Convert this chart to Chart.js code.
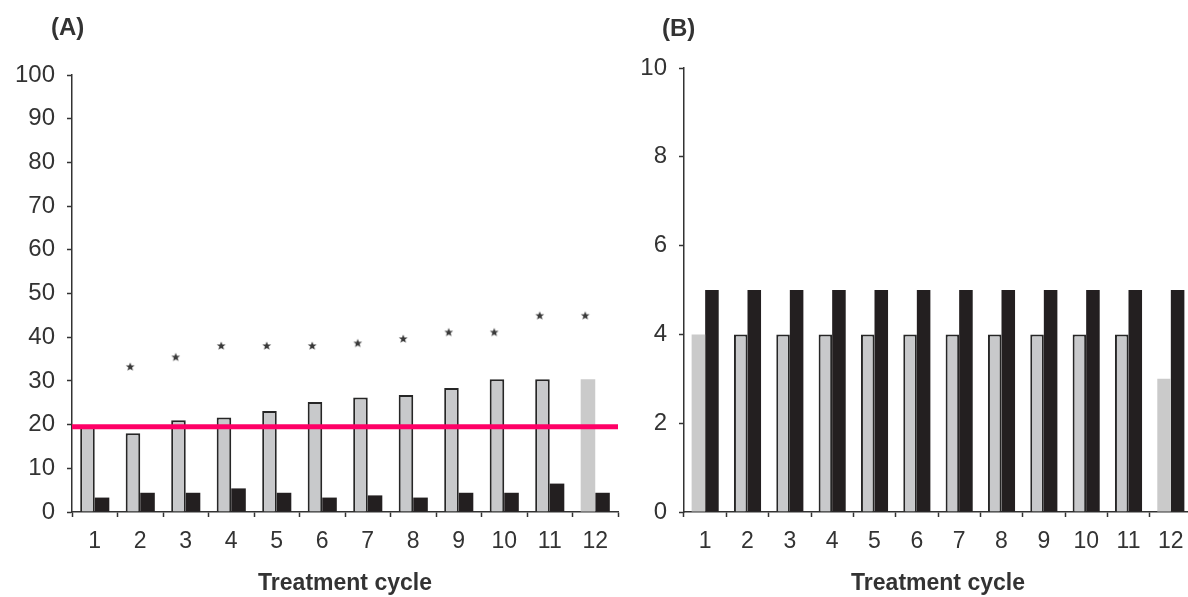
<!DOCTYPE html>
<html>
<head>
<meta charset="utf-8">
<script src="https://cdn.jsdelivr.net/npm/chart.js@4.4.1/dist/chart.umd.min.js"></script>
<style>
  html, body { margin: 0; padding: 0; background: #fff; overflow: hidden; }
  body { width: 1188px; height: 597px; position: relative; }
  .panel { position: absolute; top: 0; height: 597px; }
  #wrapA, #wrapA2 { left: 0; width: 630px; }
  #wrapA2 { pointer-events: none; }
  #wrapB { left: 620px; width: 576px; }
  .tag { position: absolute; font: bold 24px "Liberation Sans", Arial, sans-serif; color: #333; }
</style>
</head>
<body>
<div id="wrapA" class="panel"><canvas id="chartA"></canvas></div>
<div id="wrapA2" class="panel"><canvas id="chartA2"></canvas></div>
<div id="wrapB" class="panel"><canvas id="chartB"></canvas></div>
<div class="tag" style="left:51px; top:13px;">(A)</div>
<div class="tag" style="left:662px; top:14px;">(B)</div>
<script>
// ---- data ----
const cycles = ['1','2','3','4','5','6','7','8','9','10','11','12'];
const panelAGray  = [19.8, 18, 21, 21.6, 23.1, 25.2, 26.2, 26.8, 28.4, 30.4, 30.4, 30.4];
const panelABlack = [3.3, 4.4, 4.4, 5.4, 4.4, 3.3, 3.8, 3.3, 4.4, 4.4, 6.5, 4.4];
const panelAStars = [null, 33.2, 35.4, 38, 38, 38, 38.6, 39.6, 41.1, 41.1, 44.9, 44.9];
const panelAThreshold = 19.5;
const panelBGray  = [4, 4, 4, 4, 4, 4, 4, 4, 4, 4, 4, 3];
const panelBBlack = [5, 5, 5, 5, 5, 5, 5, 5, 5, 5, 5, 5];
const panelAYTicks = [0, 100, 10];
const panelBYTicks = [0, 10, 2];
const xTitle = 'Treatment cycle';

// ---- styles ----
const FONT = '"Liberation Sans", Arial, sans-serif';
const INK = '#333';
const GRAY = '#c8c9cb';
const LIGHT = '#cacaca';
const BLACK = '#231f20';
const PINK = 'rgb(255,0,102)';

// small star glyph used as point style, drawn a little left of centre (over the grey bar)
function makeStar() {
  const c = document.createElement('canvas');
  c.width = 40; c.height = 14;
  const g = c.getContext('2d');
  const cx = 20 - 10, cy = 7, R = 4.6, r = 2.0;
  g.beginPath();
  for (let i = 0; i < 10; i++) {
    const a = -Math.PI / 2 + i * Math.PI / 5;
    const rr = i % 2 ? r : R;
    g.lineTo(cx + rr * Math.cos(a), cy + rr * Math.sin(a));
  }
  g.closePath();
  g.fillStyle = '#3a3a3a';
  g.fill();
  return c;
}

function grayColors(vals, lightIdx) {
  return vals.map((_, i) => lightIdx.includes(i) ? LIGHT : GRAY);
}
function grayBorders(vals, lightIdx) {
  return vals.map((_, i) => lightIdx.includes(i) ? 0 : 2);
}

function baseOptions(yTicks, yWidth, pad) {
  return {
    responsive: true,
    maintainAspectRatio: false,
    animation: false,
    layout: { padding: pad },
    plugins: { legend: { display: false }, tooltip: { enabled: false }, title: { display: false } },
    scales: {
      x: {
        type: 'category',
        offset: true,
        grid: { display: true, drawOnChartArea: false, drawTicks: true, tickLength: 5, tickColor: INK, tickWidth: 1.5, offset: true },
        border: { display: true, color: INK, width: 1.5 },
        ticks: { color: INK, font: { family: FONT, size: 23 }, padding: 11, maxRotation: 0, autoSkip: false },
        title: { display: true, text: xTitle, color: INK, font: { family: FONT, size: 23, weight: 'bold' }, padding: { top: 0, bottom: 0 } },
        afterFit: s => { s.height = 85; }
      },
      y: {
        min: yTicks[0], max: yTicks[1],
        grid: { display: true, drawOnChartArea: false, drawTicks: true, tickLength: 5, tickColor: INK, tickWidth: 1.5 },
        border: { display: true, color: INK, width: 1.5 },
        ticks: { stepSize: yTicks[2], color: INK, font: { family: FONT, size: 24 }, padding: 12 },
        afterFit: s => { s.width = yWidth; }
      }
    }
  };
}

// ---- Panel A: bars with axes ----
const optA = baseOptions(panelAYTicks, 72, { top: 75, right: 12, left: 0, bottom: 0 });
new Chart(document.getElementById('chartA'), {
  type: 'bar',
  data: {
    labels: cycles,
    datasets: [
      { label: 'grey', xAxisID: 'x', yAxisID: 'y', data: panelAGray,
        backgroundColor: grayColors(panelAGray, [11]), borderColor: '#262626',
        borderWidth: grayBorders(panelAGray, [11]), categoryPercentage: 0.64, barPercentage: 1.0 },
      { label: 'black', xAxisID: 'x', yAxisID: 'y', data: panelABlack,
        backgroundColor: BLACK, borderWidth: 0, categoryPercentage: 0.64, barPercentage: 1.0 }
    ]
  },
  options: optA
});

// ---- Panel A overlay: significance stars and threshold line, same plot area ----
new Chart(document.getElementById('chartA2'), {
  type: 'line',
  data: {
    labels: cycles,
    datasets: [
      { label: 'threshold', xAxisID: 'x2', yAxisID: 'y',
        data: [{ x: 0, y: panelAThreshold }, { x: cycles.length, y: panelAThreshold }],
        borderColor: PINK, borderWidth: 5, pointRadius: 0 },
      { label: 'stars', xAxisID: 'x', yAxisID: 'y', data: panelAStars,
        showLine: false, pointStyle: makeStar(), pointRadius: 5 }
    ]
  },
  options: {
    responsive: true, maintainAspectRatio: false, animation: false,
    layout: { padding: { top: 75, right: 12, bottom: 85, left: 72 } },
    plugins: { legend: { display: false }, tooltip: { enabled: false } },
    scales: {
      x: { type: 'category', display: false, offset: true },
      x2: { type: 'linear', display: false, offset: false, min: 0, max: cycles.length },
      y: { type: 'linear', display: false, min: panelAYTicks[0], max: panelAYTicks[1] }
    }
  }
});

// ---- Panel B ----
const optB = baseOptions(panelBYTicks, 64, { top: 68, right: 4, left: 0, bottom: 0 });
new Chart(document.getElementById('chartB'), {
  type: 'bar',
  data: {
    labels: cycles,
    datasets: [
      { label: 'grey', xAxisID: 'x', yAxisID: 'y', data: panelBGray,
        backgroundColor: grayColors(panelBGray, [0, 11]), borderColor: '#262626',
        borderWidth: grayBorders(panelBGray, [0, 11]), categoryPercentage: 0.64, barPercentage: 1.0 },
      { label: 'black', xAxisID: 'x', yAxisID: 'y', data: panelBBlack,
        backgroundColor: BLACK, borderWidth: 0, categoryPercentage: 0.64, barPercentage: 1.0 }
    ]
  },
  options: optB
});
</script>
</body>
</html>
